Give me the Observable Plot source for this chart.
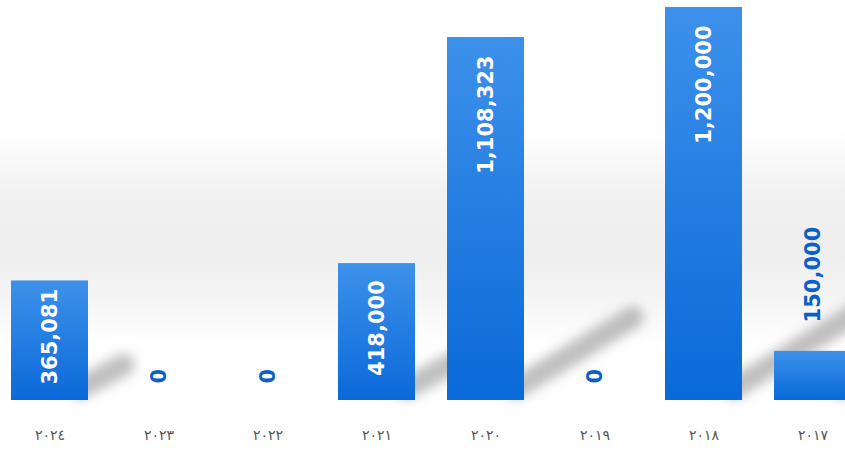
<!DOCTYPE html>
<html><head><meta charset="utf-8">
<script src="https://cdn.jsdelivr.net/npm/d3@7"></script>
<script src="https://cdn.jsdelivr.net/npm/@observablehq/plot@0.6"></script>
<style>
html,body{margin:0;padding:0;background:#fff;}
#chart{width:845px;height:450px;overflow:hidden;background:linear-gradient(to bottom,#ffffff 0px,#ffffff 130px,#f1f1f1 195px,#eeeeee 250px,#f4f4f4 295px,#ffffff 345px,#ffffff 450px);}
#chart svg{display:block;}
</style></head><body><div id="chart"></div>
<script>
const years = [2024, 2023, 2022, 2021, 2020, 2019, 2018, 2017];
const tickLabels = ["٢٠٢٤", "٢٠٢٣", "٢٠٢٢", "٢٠٢١", "٢٠٢٠", "٢٠١٩", "٢٠١٨", "٢٠١٧"];
const values = [365081, 0, 0, 418000, 1108323, 0, 1200000, 150000];

const data = years.map((year, i) => ({year, value: values[i]}));
const labelOf = new Map(years.map((y, i) => [y, tickLabels[i]]));
const fmt = d3.format(",");
const blue = "#0c5fc7";
const common = {x: "year", text: d => fmt(d.value), rotate: -90, fontWeight: "bold", fontSize: 21, fontFamily: "DejaVu Sans"};

const chart = Plot.plot({
  width: 845, height: 450,
  marginTop: 7, marginBottom: 50, marginLeft: 0, marginRight: 0,
  style: {background: "transparent", fontFamily: "DejaVu Sans", overflow: "hidden"},
  x: {domain: years, range: [-5, 867], paddingInner: 0.29, paddingOuter: 0.145, label: null},
  y: {domain: [0, 1200000], axis: null},
  marks: [
    Plot.barY(data, {x: "year", y: "value", fill: "url(#barGrad)"}),
    Plot.text(data.filter(d => d.value >= 1e6), {...common, y: "value", textAnchor: "end", dy: 18, fill: "white"}),
    Plot.text(data.filter(d => d.value >= 300000 && d.value < 1e6), {...common, y: d => d.value / 2, textAnchor: "middle", dy: -4, fill: "white"}),
    Plot.text(data.filter(d => d.value > 0 && d.value < 300000), {...common, y: "value", textAnchor: "start", dy: -29, fill: blue}),
    Plot.text(data.filter(d => d.value === 0), {...common, y: "value", textAnchor: "start", dy: -17, fill: blue}),
    Plot.axisX({tickSize: 0, tickPadding: 30, tickFormat: d => labelOf.get(d), label: null, fontSize: 14, color: "#555", fontFamily: "DejaVu Sans"})
  ]
});

const svg = d3.select(chart);
const defs = svg.insert("defs", ":first-child");
const grad = defs.append("linearGradient").attr("id", "barGrad").attr("x1", 0).attr("y1", 0).attr("x2", 0).attr("y2", 1);
grad.append("stop").attr("offset", "0%").attr("stop-color", "#3d91ea");
grad.append("stop").attr("offset", "100%").attr("stop-color", "#0a69d9");
const blur = defs.append("filter").attr("id", "shBlur").attr("x", "-50%").attr("y", "-50%").attr("width", "200%").attr("height", "200%");
blur.append("feGaussianBlur").attr("stdDeviation", 6);

const sx = chart.scale("x"), sy = chart.scale("y");
const shadows = svg.insert("g", "g[aria-label=bar]").attr("filter", "url(#shBlur)");
const y0 = sy.apply(0);
for (const d of data) {
  if (!(d.value > 0)) continue;
  const xr = sx.apply(d.year) + sx.bandwidth;
  const h = y0 - sy.apply(d.value);
  const L = 0.3 * h;
  shadows.append("line")
    .attr("x1", xr - 8).attr("y1", y0 - 12)
    .attr("x2", xr + L).attr("y2", y0 - 12 - 0.65 * L)
    .attr("stroke", "#8a8a8a").attr("stroke-opacity", 0.55)
    .attr("stroke-width", 22).attr("stroke-linecap", "round");
}

document.getElementById("chart").appendChild(chart);
</script>
</body></html>
